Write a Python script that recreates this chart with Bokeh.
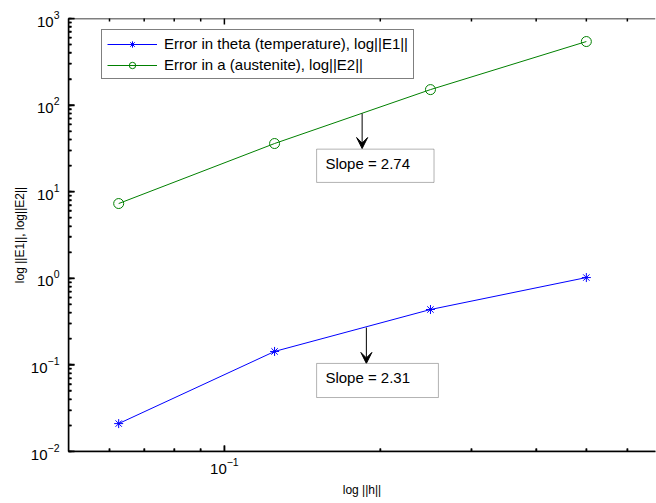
import math
from bokeh.plotting import figure
from bokeh.models import (Range1d, FixedTicker, Arrow, VeeHead, Label, BoxAnnotation,
                          Legend, LegendItem, Span)
from bokeh.embed import file_html
from bokeh.resources import INLINE

# ---- data ----
h = [0.0625, 0.125, 0.25, 0.5]
E1 = [0.021, 0.143, 0.436, 1.02]
E2 = [7.3, 36.0, 151.0, 542.0]
label_E1 = "Error in theta (temperature), log||E1||"
label_E2 = "Error in a (austenite), log||E2||"
x_label = "log ||h||"
y_label = "log ||E1||, log||E2||"
x_lim = [0.05, 0.68]
y_lim = [0.01, 1000]
x_major = [0.1]
x_minor = [0.06, 0.07, 0.08, 0.09, 0.2, 0.3, 0.4, 0.5, 0.6]
y_major = [1e-2, 1e-1, 1e0, 1e1, 1e2, 1e3]
y_minor = [m * d for d in [1e-2, 1e-1, 1e0, 1e1, 1e2] for m in range(2, 10)]
slope_texts = ["Slope = 2.74", "Slope = 2.31"]
# annotation geometry (data units)
arrow_x = [0.1845, 0.188]
arrow_y0 = [80.0, 0.27]
arrow_y1 = [31.5, 0.104]
box_left = [0.1507, 0.1507]
box_right = [0.254, 0.259]
box_top = [31.0, 0.104]
box_bottom = [12.8, 0.042]
text_x = [0.1567, 0.1567]
text_y = [21.2, 0.0716]

FONT = "Liberation Sans"
BLUE = "#0000ff"
GREEN = "#008000"
LW = 1.5

p = figure(width=656, height=503, x_axis_type="log", y_axis_type="log",
           x_range=Range1d(*x_lim), y_range=Range1d(*y_lim),
           output_backend="svg", toolbar_location=None,
           min_border_left=68, min_border_right=1, min_border_top=18,
           min_border_bottom=52)
p.outline_line_color = None
p.grid.grid_line_color = None

def style_axis(ax):
    ax.major_tick_in = 6
    ax.major_tick_out = 0
    ax.minor_tick_in = 3
    ax.minor_tick_out = 0
    ax.axis_line_color = "black"
    ax.axis_line_width = LW
    ax.major_tick_line_color = "black"
    ax.major_tick_line_width = LW
    ax.minor_tick_line_color = "black"
    ax.minor_tick_line_width = LW
    ax.major_label_text_font = FONT
    ax.major_label_text_font_size = "15px"
    ax.major_label_text_color = "black"
    ax.axis_label_text_font = FONT
    ax.axis_label_text_font_size = "12px"
    ax.axis_label_text_font_style = "normal"
    ax.axis_label_text_color = "black"

xa = p.xaxis[0]
style_axis(xa)
xa.ticker = FixedTicker(ticks=x_major, minor_ticks=x_minor)
xa.major_label_standoff = 6
xa.axis_label = x_label
xa.axis_label_standoff = 6

ya = p.yaxis[0]
style_axis(ya)
ya.major_label_standoff = 9
ya.axis_label = y_label
ya.axis_label_standoff = 1

# ---- box edges (left, bottom, top) ----
p.add_layout(Span(location=x_lim[0], dimension="height", line_color="black", line_width=LW))
for yy in y_lim:
    p.add_layout(Span(location=yy, dimension="width", line_color="black", line_width=LW))

# ---- inward tick marks drawn as dash markers on the edges (clipped by the frame) ----
for ys, sz in ((y_major, 12), (y_minor, 6)):
    p.scatter([x_lim[0]] * len(ys), ys, marker="dash", size=sz,
              line_color="black", line_width=LW)
for xs, sz in ((x_major, 12), (x_minor, 6)):
    for yy in y_lim:
        p.scatter(xs, [yy] * len(xs), marker="dash", size=sz, angle=math.pi / 2,
                  line_color="black", line_width=LW)

# ---- series ----
l1 = p.line(h, E1, line_color=BLUE, line_width=1)
m1 = p.scatter(h, E1, marker="asterisk", size=9, line_color=BLUE, line_width=1)
l2 = p.line(h, E2, line_color=GREEN, line_width=1)
m2 = p.scatter(h, E2, marker="circle", size=10, line_color=GREEN, fill_color=None,
               line_width=1)

legend = Legend(items=[LegendItem(label=label_E1, renderers=[l1, m1]),
                       LegendItem(label=label_E2, renderers=[l2, m2])],
                location=(33, 372))
legend.border_line_color = "black"
legend.border_line_width = 1
legend.background_fill_color = "white"
legend.background_fill_alpha = 1
legend.label_text_font = FONT
legend.label_text_font_size = "15px"
legend.label_text_color = "black"
legend.glyph_width = 50
legend.glyph_height = 16
legend.label_height = 16
legend.label_standoff = 7
legend.spacing = 4
legend.padding = 5
legend.margin = 0
p.add_layout(legend)

# ---- annotations ----
for i in range(2):
    p.add_layout(Arrow(end=VeeHead(size=11, fill_color="black", line_color="black"),
                       x_start=arrow_x[i], y_start=arrow_y0[i],
                       x_end=arrow_x[i], y_end=arrow_y1[i],
                       line_color="black", line_width=1))
    p.add_layout(BoxAnnotation(left=box_left[i], right=box_right[i],
                               top=box_top[i], bottom=box_bottom[i],
                               fill_color="white", fill_alpha=1,
                               line_color="black", line_width=1))
    p.add_layout(Label(x=text_x[i], y=text_y[i], text=slope_texts[i],
                       text_font=FONT, text_font_size="15px",
                       text_color="black", text_baseline="middle",
                       text_align="left"))

open("out.html", "w").write(file_html(p, INLINE))
